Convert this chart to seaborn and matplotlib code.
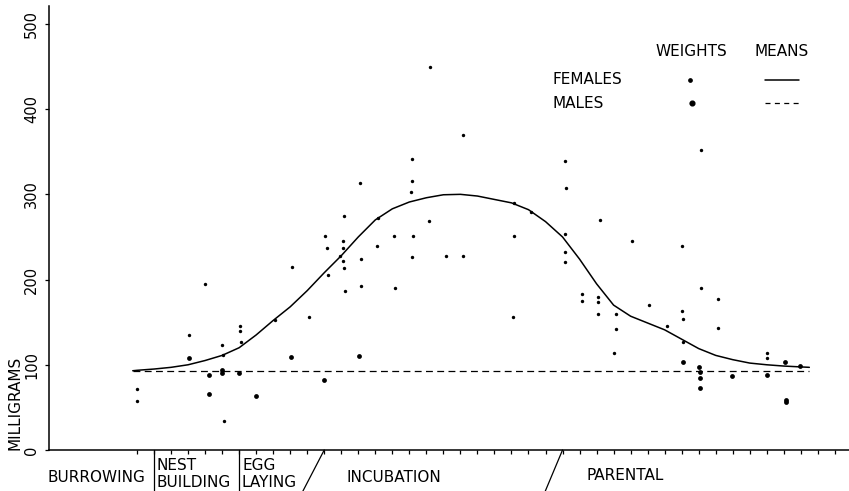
import matplotlib
matplotlib.use("Agg")
import matplotlib.pyplot as plt
import pandas as pd
import seaborn as sns
from matplotlib.lines import Line2D

# Individual body weights (mg) against day of the breeding cycle
female_days = [-0.02, 0.02, 3.06, 4.0, 5.01, 5.03, 5.11, 6.05, 6.05, 6.13, 8.1, 9.09,
               10.1, 11.05, 11.14, 11.2, 11.95, 12.12, 12.12, 12.18, 12.16, 12.12, 12.22,
               13.1, 13.16, 13.16, 14.18, 14.12, 15.12, 15.16, 16.14, 16.14, 16.1, 16.23,
               16.18, 17.21, 17.16, 18.13, 19.13, 19.17, 22.17, 22.17, 22.11, 23.15,
               25.15, 25.19, 25.15, 25.15, 25.15, 26.16, 26.16, 27.2, 27.07, 27.1, 27.07,
               28.12, 28.12, 28.04, 29.06, 30.08, 31.12, 32.04, 32.04, 32.06, 32.06,
               32.55, 33.12, 33.12, 34.12, 34.12, 37.03, 37.03]
female_mg = [71.2, 57.9, 135, 194.5, 123.6, 111.5, 33.6, 145.5, 139.7, 126.8, 153, 215,
             155.7, 251.6, 236.7, 205.4, 228, 245.3, 236.7, 275, 214, 222, 186.6,
             313, 224, 192.5, 272, 239.8, 251.6, 190.5, 341.5, 316, 302.4, 251.6,
             227, 450, 268.8, 228, 228, 369.7, 290, 251, 156.5, 279,
             339.6, 307.5, 253.5, 232.8, 220.3, 182.7, 174.9, 270, 180, 173.3, 159.6,
             159.6, 141.6, 114.2, 245.7, 170, 146, 239.8, 163, 153.8, 126.4,
             407, 352, 189.8, 177.2, 142.8, 113.5, 107.6]

male_days = [3.06, 4.25, 4.25, 4.97, 4.97, 6.01, 6.97, 9.03, 13.04, 11.0, 32.06,
             33.02, 33.06, 33.06, 33.1, 34.98, 37.03, 38.07, 38.11, 38.11, 38.95]
male_mg = [107.6, 88.4, 65.7, 94, 90, 90, 63.8, 108.8, 110, 81.8, 103.7,
           97, 92, 84.1, 72.4, 87.2, 88, 103, 56.7, 58.5, 98.6]

# Mean weight curves
mean_days = [-0.25] + list(range(40)) + [39.5]
female_mean = [93, 93.5, 95, 97, 100, 105, 111, 120, 135, 152, 168, 187, 208, 228, 250,
               270, 283, 291, 296, 299.5, 300, 298, 294, 290, 282, 268, 250, 224, 195,
               170, 157, 149, 141, 130, 119, 111, 106, 102, 100, 98.5, 97.5, 97]
male_mean_days = [-0.25, 39.5]
male_mean = [93, 93]

phase_bounds = [1, 6, 11, 25]
y_ticks = [0, 100, 200, 300, 400, 500]
day_ticks = list(range(42))

W, H = 849, 491
FS = 11

sns.set_theme(style="white")
plt.rcParams["font.family"] = ["DejaVu Sans"]
plt.rcParams["text.color"] = "black"


def fpos(x, y):
    """Pixel position -> figure fraction."""
    return x / W, 1 - y / H


fig = plt.figure(figsize=(W / 100, H / 100), dpi=100)
ax = fig.add_axes([49 / W, 1 - 450 / H, 1 - 49 / W, (450 - 6) / H])

fem = pd.DataFrame({"day": female_days, "mg": female_mg})
mal = pd.DataFrame({"day": male_days, "mg": male_mg})
fmean = pd.DataFrame({"day": mean_days, "mg": female_mean})
mmean = pd.DataFrame({"day": male_mean_days, "mg": male_mean})

sns.lineplot(data=fmean, x="day", y="mg", color="black", lw=1.1,
             estimator=None, sort=False, ax=ax)
sns.lineplot(data=mmean, x="day", y="mg", color="black", lw=0.9,
             linestyle=(0, (5.5, 3.5)), estimator=None, sort=False, ax=ax)
sns.scatterplot(data=fem, x="day", y="mg", color="black", s=6, linewidth=0, ax=ax)
sns.scatterplot(data=mal, x="day", y="mg", color="black", s=12, linewidth=0, ax=ax)

ax.set_xlim(-5.17, 41.83)
ax.set_ylim(0, 521)
for side in ("top", "right"):
    ax.spines[side].set_visible(False)
for side in ("left", "bottom"):
    ax.spines[side].set_color("black")
    ax.spines[side].set_linewidth(1.1)

ax.set_xticks(day_ticks)
ax.set_xticklabels([])
ax.set_yticks(y_ticks)
ax.set_yticklabels([str(v) for v in y_ticks], rotation=90, va="center", fontsize=10.5)
ax.tick_params(axis="x", bottom=True, direction="out", length=3, width=0.9, color="black")
ax.tick_params(axis="y", left=True, direction="out", length=3, width=0.9,
               color="black", labelcolor="black", pad=4)
ax.set_xlabel("")
ax.set_ylabel("")

# Phase dividers below the day axis
slant = [0, 0, -1.3, -1.05]
for b, s in zip(phase_bounds, slant):
    ax.add_line(Line2D([b, b + s], [0, -50], color="black", lw=0.9,
                       clip_on=False, transform=ax.transData))

fig.text(*fpos(15, 403), "MILLIGRAMS", rotation=90, ha="center", va="center", fontsize=FS)

fig.text(*fpos(96, 477), "BURROWING", ha="center", va="center", fontsize=FS)
fig.text(*fpos(157, 465), "NEST", ha="left", va="center", fontsize=FS)
fig.text(*fpos(156, 482.5), "BUILDING", ha="left", va="center", fontsize=FS)
fig.text(*fpos(242, 465), "EGG", ha="left", va="center", fontsize=FS)
fig.text(*fpos(241, 482.5), "LAYING", ha="left", va="center", fontsize=FS)
fig.text(*fpos(394, 477), "INCUBATION", ha="center", va="center", fontsize=FS)
fig.text(*fpos(625, 475), "PARENTAL", ha="center", va="center", fontsize=FS)

# Key
fig.text(*fpos(655, 52), "WEIGHTS", ha="left", va="center", fontsize=FS)
fig.text(*fpos(755, 52), "MEANS", ha="left", va="center", fontsize=FS)
fig.text(*fpos(553, 80), "FEMALES", ha="left", va="center", fontsize=FS)
fig.text(*fpos(553, 104), "MALES", ha="left", va="center", fontsize=FS)
fig.add_artist(Line2D([fpos(690, 80)[0]], [fpos(690, 80)[1]], marker="o", ms=2.4,
                      color="black", lw=0, transform=fig.transFigure))
fig.add_artist(Line2D([fpos(692, 103)[0]], [fpos(692, 103)[1]], marker="o", ms=3.4,
                      color="black", lw=0, transform=fig.transFigure))
fig.add_artist(Line2D([765 / W, 799 / W], [fpos(0, 80)[1]] * 2, color="black", lw=1.1,
                      transform=fig.transFigure))
fig.add_artist(Line2D([765 / W, 802 / W], [fpos(0, 103)[1]] * 2, color="black", lw=0.9,
                      linestyle=(0, (4, 3.5)), transform=fig.transFigure))

fig.savefig("out.png", dpi=100, facecolor="white")
